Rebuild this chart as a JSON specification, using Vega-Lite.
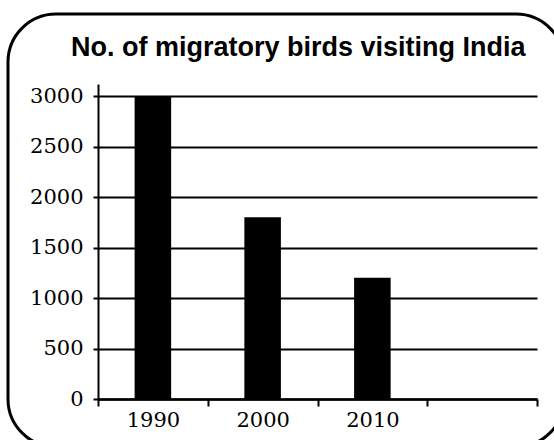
{
  "$schema": "https://vega.github.io/schema/vega-lite/v6.json",
  "autosize": "none",
  "padding": {"left": 8, "top": 14, "right": 0, "bottom": 0},
  "width": 556,
  "height": 433,
  "background": "white",
  "config": {
    "view": {"stroke": "black", "strokeWidth": 3, "cornerRadius": 48, "fill": "white"}
  },
  "title": {
    "text": "No. of migratory birds visiting India",
    "font": "Liberation Sans",
    "fontWeight": "bold",
    "fontSize": 27,
    "color": "black",
    "anchor": "start",
    "baseline": "alphabetic",
    "offset": -69,
    "dx": 63
  },
  "data": {
    "values": [
      {"year": "1990", "birds": 3000},
      {"year": "2000", "birds": 1800},
      {"year": "2010", "birds": 1200}
    ]
  },
  "mark": {"type": "bar", "color": "black", "width": {"band": 0.333}},
  "encoding": {
    "x": {
      "field": "year",
      "type": "ordinal",
      "scale": {"domain": ["1990", "2000", "2010", ""], "range": [90, 529], "paddingInner": 0, "paddingOuter": 0},
      "axis": {
        "title": null,
        "orient": "bottom",
        "offset": -48,
        "tickBand": "extent",
        "labelAngle": 0,
        "labelFont": "DejaVu Serif",
        "labelFontSize": 21,
        "labelColor": "black",
        "labelPadding": 3,
        "tickSize": 7,
        "tickWidth": 2,
        "tickColor": "black",
        "domainColor": "black",
        "domainWidth": 2.5,
        "grid": false
      }
    },
    "y": {
      "field": "birds",
      "type": "quantitative",
      "scale": {"domain": [0, 3120], "range": [385, 70], "nice": false},
      "axis": {
        "title": null,
        "orient": "left",
        "offset": -90,
        "format": "d",
        "values": [0, 500, 1000, 1500, 2000, 2500, 3000],
        "labelFont": "DejaVu Serif",
        "labelFontSize": 21,
        "labelColor": "black",
        "labelPadding": 10,
        "tickSize": 5,
        "tickWidth": 2,
        "tickColor": "black",
        "domainColor": "black",
        "domainWidth": 2,
        "grid": true,
        "gridColor": "black",
        "gridWidth": 2,
        "gridOpacity": 1
      }
    }
  }
}
